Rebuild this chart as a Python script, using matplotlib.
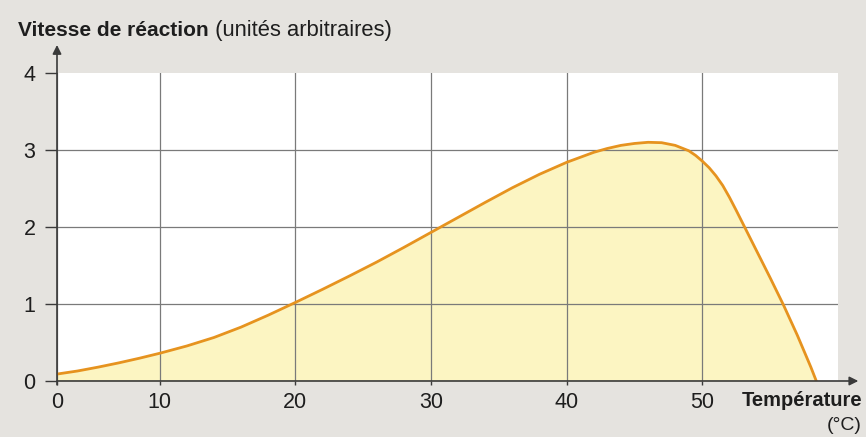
import numpy as np
import matplotlib
matplotlib.use("Agg")
import matplotlib.pyplot as plt

plt.rcParams['font.family'] = ['Liberation Sans', 'DejaVu Sans']

# Données
temperature = [0, 2, 4, 6, 8, 10, 12, 14, 16, 18, 20, 22, 24, 26, 28, 30, 32, 34,
               36, 38, 40, 42, 43, 44, 45, 46, 47, 48, 49, 49.5, 50, 50.5, 51,
               51.5, 52, 52.5, 53, 54, 55, 56, 57, 58, 58.4]
vitesse = [0.09, 0.13, 0.18, 0.235, 0.295, 0.36, 0.455, 0.565, 0.70, 0.855,
           1.02, 1.19, 1.365, 1.545, 1.735, 1.93, 2.125, 2.32, 2.51, 2.685, 2.84,
           2.97, 3.02, 3.06, 3.085, 3.10, 3.095, 3.06, 2.99, 2.93, 2.855, 2.77,
           2.665, 2.54, 2.385, 2.215, 2.04, 1.69, 1.34, 0.98, 0.595, 0.18, 0.0]
xticks = [0, 10, 20, 30, 40, 50]
yticks = [0, 1, 2, 3, 4]

# l'intervalle 0-10 est comprimé sur le graphique d'origine
K = 0.757


def fwd(x):
    x = np.asarray(x, dtype=float)
    return np.where(x < 10, x * K, 10 * K + (x - 10))


def inv(y):
    y = np.asarray(y, dtype=float)
    return np.where(y < 10 * K, y / K, y - 10 * K + 10)


fig = plt.figure(figsize=(8.66, 4.37), dpi=100, facecolor='#e5e3df')
ax = fig.add_axes([57 / 866, 56 / 437, 781 / 866, 308 / 437])
ax.set_facecolor('white')
ax.set_xscale('function', functions=(fwd, inv))

ax.fill_between(temperature, vitesse, 0, color='#fcf5c2', lw=0, zorder=1)
ax.plot(temperature, vitesse, color='#e6931f', lw=2.0, zorder=3,
        solid_capstyle='round', solid_joinstyle='round')

ax.set_xlim(0, 60)
ax.set_ylim(0, 4)
ax.set_xticks(xticks)
ax.set_yticks(yticks)
ax.set_xticklabels([str(t) for t in xticks])
ax.set_yticklabels([str(t) for t in yticks])

ax.grid(True, color='#7a7a7a', lw=0.9, zorder=2)
ax.set_axisbelow(False)
ax.yaxis.get_gridlines()[-1].set_visible(False)
for gl in ax.get_xgridlines() + ax.get_ygridlines():
    gl.set_zorder(2)

for s in ax.spines.values():
    s.set_visible(False)

ax.tick_params(axis='y', length=8.5, width=1, pad=7, labelsize=15.5,
               color='#3a3a3a', labelcolor='#1e1e1e')
ax.tick_params(axis='x', length=3, width=1, pad=5, labelsize=15.5,
               color='#3a3a3a', labelcolor='#1e1e1e')

# axes avec flèches
arrow = dict(arrowstyle='-|>', color='#3a3a3a', lw=1.2, mutation_scale=13,
             shrinkA=0, shrinkB=0)
ax.annotate('', xy=(1.026, 0), xytext=(0, 0), xycoords='axes fraction',
            arrowprops=arrow, zorder=5)
ax.annotate('', xy=(0, 1.091), xytext=(0, -0.012), xycoords='axes fraction',
            arrowprops=arrow, zorder=5)

t1 = fig.text(18 / 866, 1 - 36 / 437, 'Vitesse de réaction', fontsize=15,
              fontweight='bold', color='#1e1e1e', va='baseline', ha='left')
fig.canvas.draw()
bb = t1.get_window_extent()
fig.text(bb.x1 / 866, 1 - 36 / 437, ' (unités arbitraires)', fontsize=15.8,
         color='#1e1e1e', va='baseline', ha='left')

fig.text(742 / 866, 31 / 437, 'Température', fontsize=14.5, fontweight='bold',
         color='#1e1e1e', va='baseline', ha='left')
fig.text(862 / 866, 7 / 437, '(°C)', fontsize=14, color='#1e1e1e',
         va='baseline', ha='right')

fig.savefig('out.png', dpi=100, facecolor=fig.get_facecolor())
